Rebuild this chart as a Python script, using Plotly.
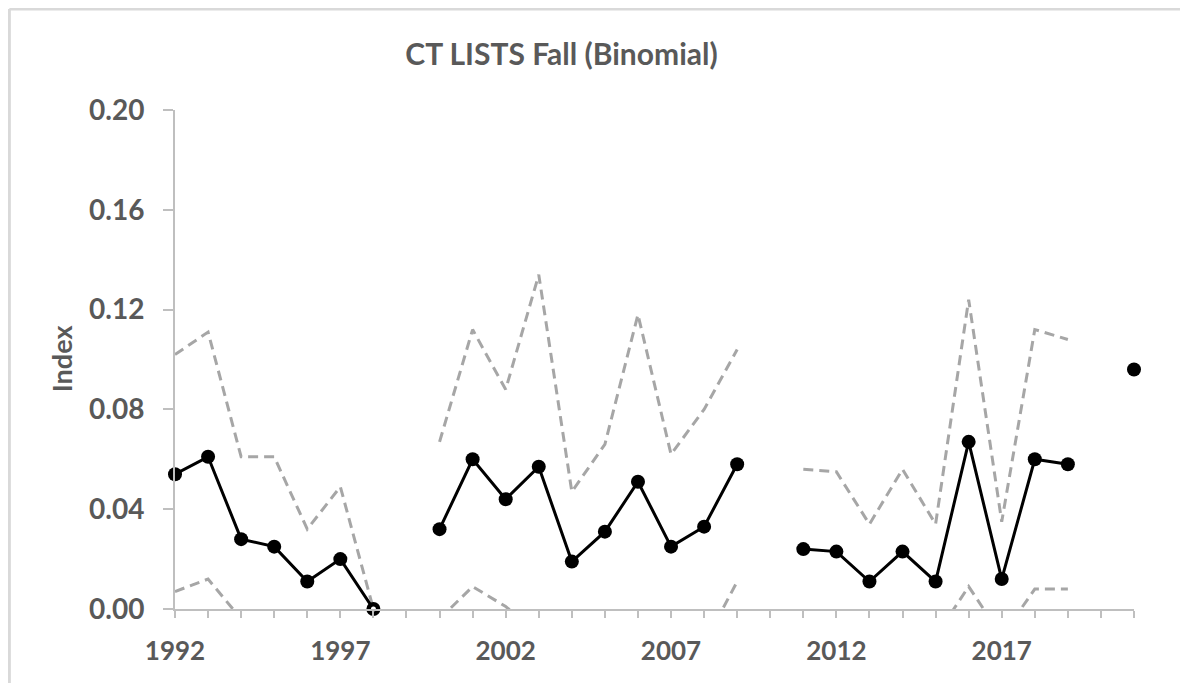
import plotly.graph_objects as go

# survey years (gaps = no survey)
years = list(range(1992, 2022))

index_vals = [0.054, 0.061, 0.028, 0.025, 0.011, 0.020, 0.000, None,
              0.032, 0.060, 0.044, 0.057, 0.019, 0.031, 0.051, 0.025, 0.033, 0.058, None,
              0.024, 0.023, 0.011, 0.023, 0.011, 0.067, 0.012, 0.060, 0.058, None, 0.096]

upper_ci = [0.102, 0.111, 0.061, 0.061, 0.032, 0.049, 0.000, None,
            0.067, 0.112, 0.088, 0.134, 0.047, 0.066, 0.118, 0.062, 0.080, 0.104, None,
            0.056, 0.055, 0.034, 0.056, 0.034, 0.124, 0.035, 0.112, 0.108, None, None]

lower_ci = [0.007, 0.012, -0.004, -0.010, -0.010, -0.010, 0.000, None,
            -0.004, 0.009, 0.001, -0.010, -0.010, -0.010, -0.010, -0.010, -0.014, 0.011, None,
            -0.010, -0.010, -0.010, -0.010, -0.011, 0.009, -0.011, 0.008, 0.008, None, None]

tick_text = [str(y) if (y - 1992) % 5 == 0 else "" for y in years]

grey_txt = "#595959"
axis_col = "#bfbfbf"
font_fam = "Lato, 'Open Sans', sans-serif"

fig = go.Figure()

for ci in (upper_ci, lower_ci):
    fig.add_trace(go.Scatter(x=years, y=ci, mode="lines", connectgaps=False,
                             line=dict(color="#a6a6a6", width=3, dash="10px,6px"),
                             showlegend=False, hoverinfo="skip"))

fig.add_trace(go.Scatter(x=years, y=index_vals, mode="lines+markers", connectgaps=False,
                         line=dict(color="#000000", width=3),
                         marker=dict(color="#000000", size=14, opacity=1,
                                     line=dict(color="#000000", width=0)),
                         cliponaxis=False, showlegend=False))

# the zero value (1998) shows as a ring: white centre on top
zero_x = [y for y, v in zip(years, index_vals) if v == 0]
zero_y = [v for v in index_vals if v == 0]
fig.add_trace(go.Scatter(x=zero_x, y=zero_y, mode="markers",
                         marker=dict(color="white", size=5, line=dict(width=0)),
                         cliponaxis=False, showlegend=False, hoverinfo="skip"))

# page has an 8px body margin; positions below are page px
OFF = 8
FW, FH = 1180, 675
L, R, T, B = 174.7, 1134.0, 110.0, 609.3
W, H = R - L, B - T

fig.update_layout(
    width=FW, height=FH,
    margin=dict(l=L - OFF, r=FW - (R - OFF), t=T - OFF, b=FH - (B - OFF), autoexpand=False),
    paper_bgcolor="white", plot_bgcolor="white",
    font=dict(family=font_fam, color=grey_txt, size=26),
    title=dict(text="<b>CT LISTS Fall (Binomial)</b>", x=(561.5 - OFF) / FW, xref="container",
               xanchor="center", y=1 - (54 - OFF) / FH, yref="container", yanchor="middle",
               font=dict(size=30, color=grey_txt, family=font_fam)),
    xaxis=dict(range=[1992, 2021], tickvals=years, ticktext=tick_text,
               showline=True, linecolor=axis_col, linewidth=2,
               ticks="outside", ticklen=7, tickwidth=2, tickcolor=axis_col,
               showgrid=False, zeroline=False, ticklabelstandoff=11,
               tickfont=dict(size=26, color=grey_txt, family=font_fam, weight="bold")),
    yaxis=dict(range=[0, 0.2], dtick=0.04, tickformat=".2f",
               showline=True, linecolor=axis_col, linewidth=2,
               ticks="outside", ticklen=10, tickwidth=2, tickcolor=axis_col,
               showgrid=False, zeroline=False, ticklabelstandoff=13,
               tickfont=dict(size=28, color=grey_txt, family=font_fam, weight="bold")),
)

fig.add_annotation(text="<b>Index</b>", textangle=-90, showarrow=False,
                   xref="paper", yref="paper", x=(62 - L) / W, y=(B - 358) / H,
                   xanchor="center", yanchor="middle",
                   font=dict(size=27, color=grey_txt, family=font_fam))

# light chart-area border (top and left edges), kept just inside the figure
bx0 = (OFF + 1 - L) / W
by0 = (B - (OFF + 1)) / H
fig.add_shape(type="line", xref="paper", yref="paper", x0=bx0, y0=by0, x1=(1200 - L) / W, y1=by0,
              line=dict(color="#d9d9d9", width=3))
fig.add_shape(type="line", xref="paper", yref="paper", x0=bx0, y0=by0, x1=bx0, y1=(B - 700) / H,
              line=dict(color="#d9d9d9", width=3))

fig.write_html("out.html")
